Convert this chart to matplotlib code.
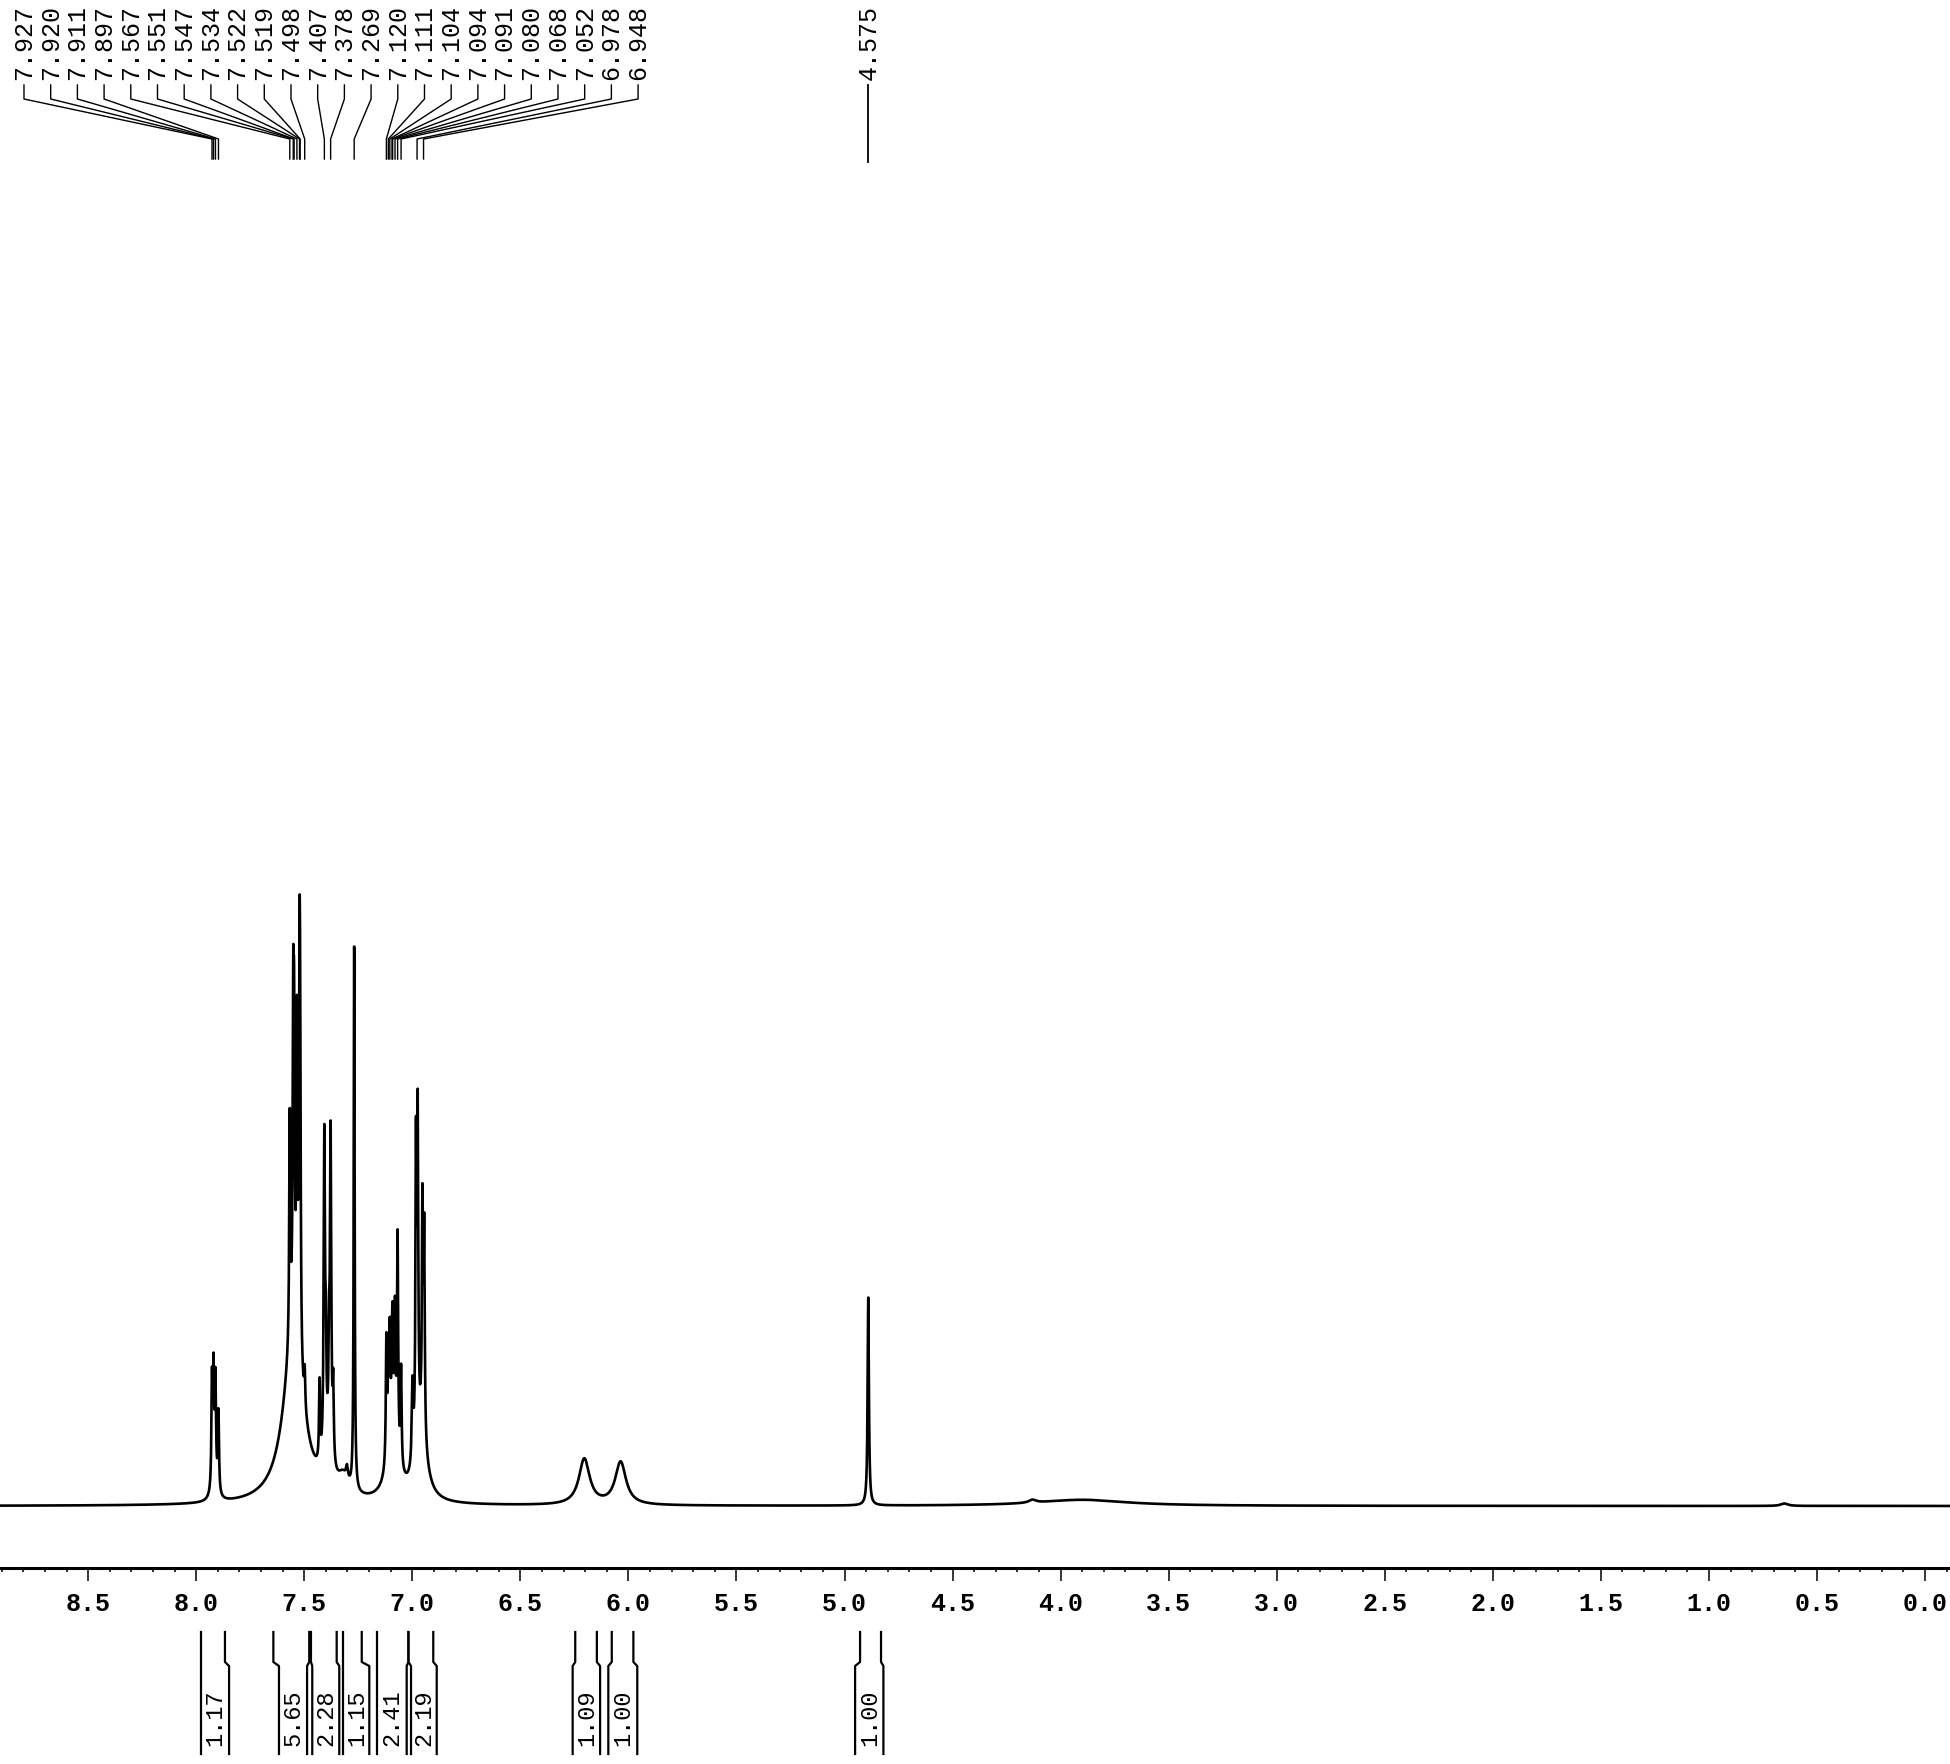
import numpy as np
import matplotlib.pyplot as plt
from matplotlib.ticker import MultipleLocator, FormatStrFormatter
from matplotlib.transforms import blended_transform_factory

plt.rcParams['font.family'] = ['Liberation Mono', 'DejaVu Sans Mono']

# peak table: shift (ppm), height (tallest = 1), half width (ppm)
peak_ppm = [7.55, 7.915, 7.39, 7.32, 7.09, 6.96, 6.204, 6.036, 4.13, 3.90, 0.65,
            7.927, 7.920, 7.911, 7.897,
            7.567, 7.551, 7.547, 7.534, 7.522, 7.519, 7.498,
            7.429, 7.407, 7.400, 7.385, 7.378, 7.366, 7.302,
            7.269,
            7.120, 7.111, 7.104, 7.094, 7.091, 7.080, 7.068, 7.052,
            6.999, 6.983, 6.975, 6.953, 6.945,
            4.890]
peak_height = [0.27, 0.035, 0.05, 0.03, 0.10, 0.11, 0.075, 0.07, 0.005, 0.010, 0.004,
               0.17, 0.17, 0.16, 0.13,
               0.37, 0.45, 0.40, 0.50, 0.52, 0.40, 0.06,
               0.13, 0.52, 0.14, 0.14, 0.52, 0.12, 0.02,
               0.89,
               0.20, 0.12, 0.17, 0.09, 0.14, 0.20, 0.35, 0.16,
               0.13, 0.48, 0.51, 0.36, 0.33,
               0.34]
peak_width = [0.055, 0.012, 0.02, 0.03, 0.03, 0.03, 0.03, 0.03, 0.02, 0.25, 0.02,
              0.003, 0.003, 0.003, 0.003,
              0.003, 0.003, 0.003, 0.003, 0.003, 0.003, 0.003,
              0.003, 0.0035, 0.003, 0.003, 0.0035, 0.003, 0.005,
              0.0025,
              0.003, 0.003, 0.003, 0.003, 0.003, 0.003, 0.003, 0.003,
              0.004, 0.003, 0.003, 0.003, 0.003,
              0.0035]

# peak pick labels at the top
shift_labels = ['7.927', '7.920', '7.911', '7.897', '7.567', '7.551', '7.547', '7.534',
                '7.522', '7.519', '7.498', '7.407', '7.378', '7.269', '7.120', '7.111',
                '7.104', '7.094', '7.091', '7.080', '7.068', '7.052', '6.978', '6.948']
single_label = '4.575'
single_pos = 4.890

# integrals below the scale
int_values = ['1.17', '5.65', '2.28', '1.15', '2.41', '2.19', '1.09', '1.00', '1.00']
int_from = [7.979, 7.643, 7.469, 7.319, 7.165, 7.018, 6.246, 6.077, 4.928]
int_to = [7.867, 7.477, 7.350, 7.234, 7.018, 6.903, 6.146, 5.977, 4.831]
br_left = [7.979, 7.617, 7.463, 7.319, 7.165, 7.006, 6.258, 6.093, 4.951]
br_right = [7.848, 7.487, 7.338, 7.199, 7.026, 6.887, 6.131, 5.959, 4.820]

W, H = 1950, 1765
x_left, x_right = 8.908, -0.1157
base_px, unit_px = 1507, 612

ppm = np.arange(x_right, x_left, 0.0004)
spec = np.zeros_like(ppm)
for p, h, w in zip(peak_ppm, peak_height, peak_width):
    spec += h / (1 + ((ppm - p) / w) ** 2)

fig = plt.figure(figsize=(W / 100, H / 100), dpi=100)
ax = fig.add_axes([0, 0, 1, 1])
ax.set_xlim(x_left, x_right)
ax.set_ylim(-(H - base_px) / unit_px, base_px / unit_px)
ax.axis('off')
ax.plot(ppm, spec, color='black', lw=1.9)

def py(p):
    return 1 - p / H

tr = blended_transform_factory(ax.transData, fig.transFigure)

# ppm scale
axis_px = 1569
sc = fig.add_axes([0, 1 - axis_px / H, 1, 0.0005])
sc.set_xlim(x_left, x_right)
sc.patch.set_visible(False)
for s in ['left', 'right', 'top']:
    sc.spines[s].set_visible(False)
sc.spines['bottom'].set_linewidth(2.2)
sc.set_yticks([])
sc.xaxis.set_major_locator(MultipleLocator(0.5))
sc.xaxis.set_minor_locator(MultipleLocator(0.1))
sc.xaxis.set_major_formatter(FormatStrFormatter('%.1f'))
sc.tick_params(axis='x', which='major', direction='out', length=9.5, width=1.1,
               labelsize=18, pad=7)
sc.tick_params(axis='x', which='minor', direction='out', length=3, width=1.1)
for t in sc.get_xticklabels():
    t.set_fontweight('bold')

# peak labels with their leader lines
pitch = 26.7 / 216.1
for i, lab in enumerate(shift_labels):
    xl = 8.797 - pitch * i
    xp = float(lab)
    ax.plot([xl, xl, xp, xp], [py(86), py(100), py(140), py(160)], color='black',
            lw=1.0, transform=tr, clip_on=False)
    ax.text(xl, py(80), lab, rotation=90, ha='center', va='bottom', fontsize=18,
            transform=tr)
ax.plot([single_pos, single_pos], [py(86), py(163)], color='black', lw=1.3,
        transform=tr, clip_on=False)
ax.text(single_pos, py(80), single_label, rotation=90, ha='center', va='bottom',
        fontsize=18, transform=tr)

# integral brackets
for v, a, b, c, d in zip(int_values, int_from, int_to, br_left, br_right):
    for top, bot in [(a, c), (b, d)]:
        ax.plot([top, top, bot, bot], [py(1633), py(1663), py(1667), py(1755)],
                color='black', lw=1.6, transform=tr, clip_on=False)
    ax.text((c + d) / 2, py(1718), v, rotation=90, ha='center', va='center',
            fontsize=17, transform=tr)

fig.savefig('out.png', dpi=100)
